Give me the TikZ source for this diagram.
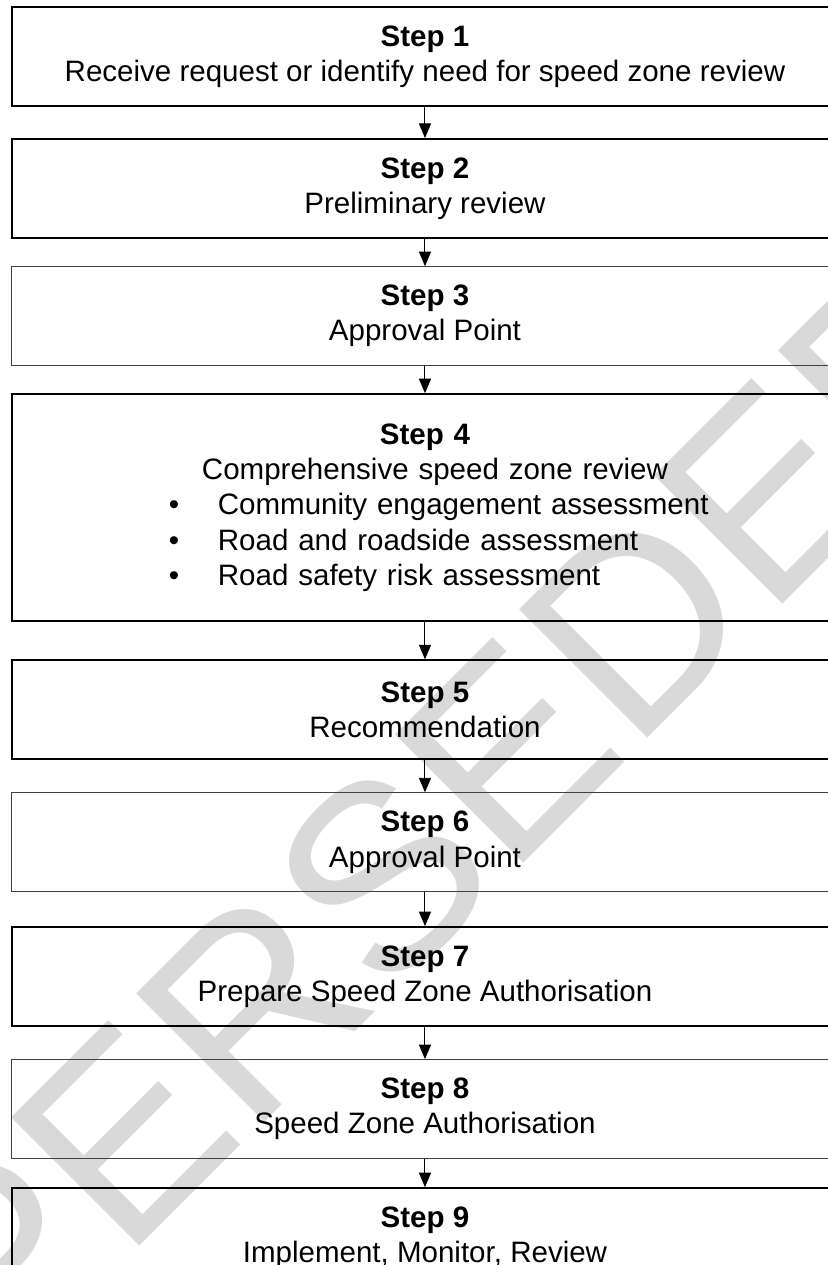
\documentclass[tikz,border=0pt]{standalone}
\usepackage{fontspec}
\setmainfont{Liberation Sans}
\usetikzlibrary{arrows.meta, positioning}

\begin{document}
\begin{tikzpicture}[
        font=\fontsize{12.2}{14.5}\selectfont,
        >={Triangle[width=5pt,length=6pt]},
        node distance=12.8pt,
        base/.style={draw, align=center, minimum width=341.3pt, minimum height=40.9pt, inner sep=0pt},
        stepbox/.style={base, line width=0.85pt},
        pointbox/.style={base, line width=0.4pt, draw=black!75},
        arrow/.style={->, line width=0.4pt}
    ]

    % page frame
    \useasboundingbox (0,0) rectangle (342pt,-522.7pt);

    % watermark behind the flow
    \node[rotate=45, text=black!15, font=\fontsize{109}{109}\selectfont] (mark) at (132.2pt,-387.8pt) {SUPERSEDED};

    % Nodes
    \node[stepbox] (step1) at (175.6pt,-23.35pt) {\textbf{Step 1}\\Receive request or identify need for speed zone review};
    \node[stepbox, below=of step1] (step2) {\textbf{Step 2}\\Preliminary review};
    \node[pointbox, below=11.2pt of step2] (step3) {\textbf{Step 3}\\Approval Point};
    \node[stepbox, below=11.2pt of step3, minimum height=93.8pt, text width=341.3pt, align=left] (step4) {%
        \makebox[\linewidth]{\textbf{Step 4}}\\
        \hspace*{78.5pt}Comprehensive speed zone review\\
        \hspace*{64.8pt}\makebox[20.3pt][l]{\textbullet}Community engagement assessment\\
        \hspace*{64.8pt}\makebox[20.3pt][l]{\textbullet}Road and roadside assessment\\
        \hspace*{64.8pt}\makebox[20.3pt][l]{\textbullet}Road safety risk assessment};
    \node[stepbox, below=15.3pt of step4] (step5) {\textbf{Step 5}\\Recommendation};
    \node[pointbox, below=13.2pt of step5] (step6) {\textbf{Step 6}\\Approval Point};
    \node[stepbox, below=14pt of step6] (step7) {\textbf{Step 7}\\Prepare Speed Zone Authorisation};
    \node[pointbox, below=13.2pt of step7] (step8) {\textbf{Step 8}\\Speed Zone Authorisation};
    \node[stepbox, below=11.6pt of step8] (step9) {\textbf{Step 9}\\Implement, Monitor, Review};

    % Arrows
    \draw[arrow] (step1) -- (step2);
    \draw[arrow] (step2) -- (step3);
    \draw[arrow] (step3) -- (step4);
    \draw[arrow] (step4) -- (step5);
    \draw[arrow] (step5) -- (step6);
    \draw[arrow] (step6) -- (step7);
    \draw[arrow] (step7) -- (step8);
    \draw[arrow] (step8) -- (step9);

\end{tikzpicture}
\end{document}
